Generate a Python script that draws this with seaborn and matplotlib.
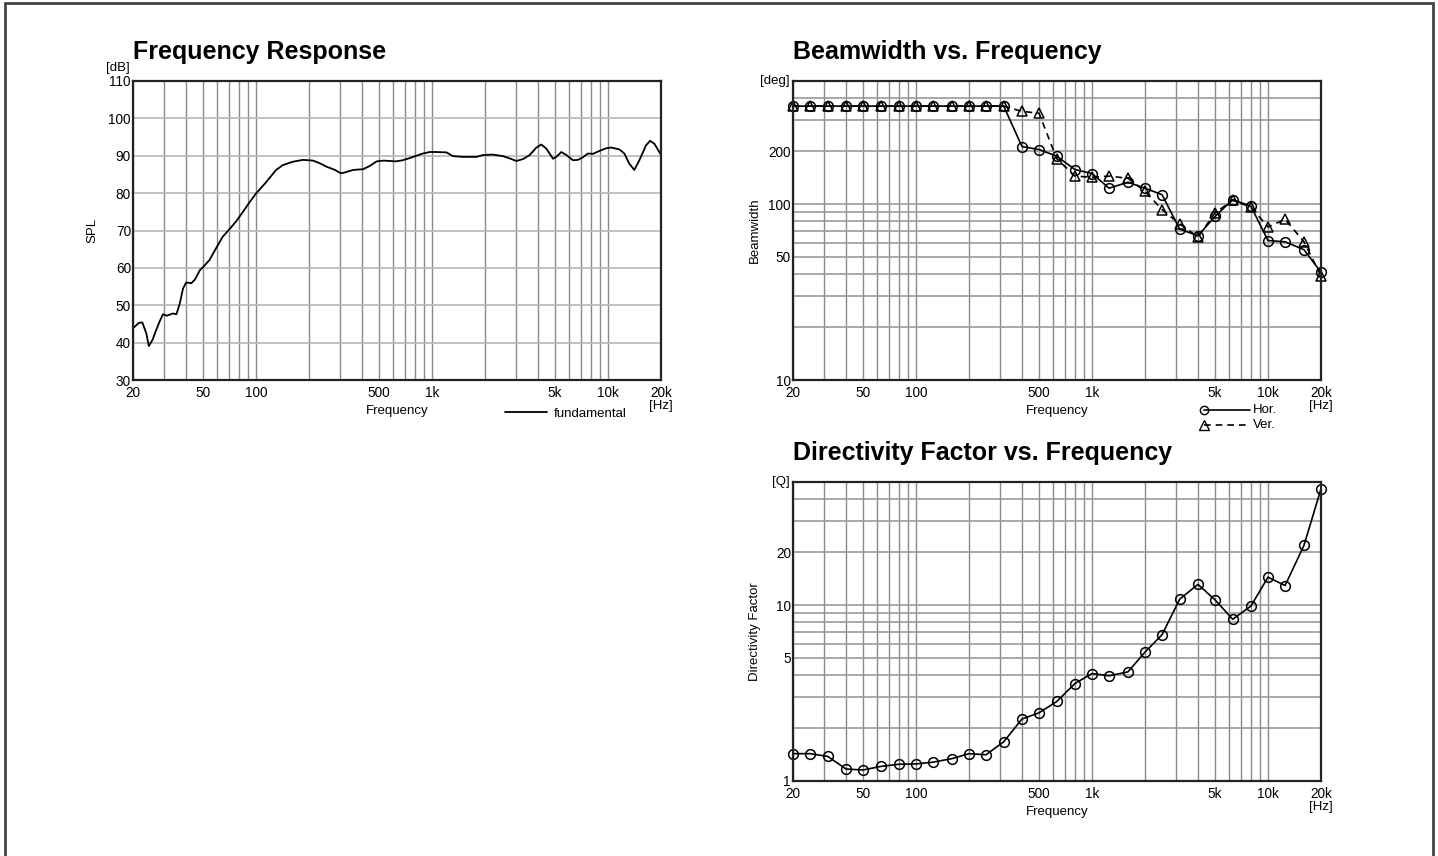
import numpy as np
import pandas as pd
import matplotlib.pyplot as plt
import seaborn as sns
from matplotlib.ticker import FixedLocator, FixedFormatter, NullFormatter
from matplotlib.patches import Rectangle

# frequency response
fr_freq = [20.3, 21.6, 22.6, 23.8, 24.6, 25.8, 27.1, 28.3, 29.6, 31.1, 33.7, 35.3, 36.9, 38.5,
           40.1, 42.9, 45, 48, 50, 54.4, 59.2, 64.6, 70.5, 77, 84, 91.7, 100, 114, 130, 142,
           162, 185, 211, 230, 251, 281, 303, 318, 356, 406, 444, 485, 530, 624, 683, 749,
           815, 888, 970, 1055, 1208, 1316, 1500, 1788, 1951, 2219, 2530, 2760, 3012, 3287,
           3589, 3917, 4182, 4465, 4870, 5085, 5430, 5795, 6325, 6750, 7200, 7690, 8200,
           8935, 9760, 10400, 11600, 12380, 13200, 14100, 15070, 16450, 17340, 18350, 19900]
fr_spl = [44.1, 45.3, 45.4, 42.5, 39.1, 40.7, 43.4, 45.6, 47.6, 47.2, 47.8, 47.6, 50.5, 54.5,
          56.1, 55.9, 56.9, 59.4, 60.2, 62.1, 65.2, 68.3, 70.3, 72.4, 74.9, 77.5, 79.9, 82.9,
          86.2, 87.5, 88.4, 88.9, 88.7, 88.0, 87.1, 86.2, 85.3, 85.5, 86.2, 86.4, 87.3, 88.5,
          88.7, 88.5, 88.8, 89.4, 90.0, 90.6, 91.0, 91.0, 90.9, 89.9, 89.7, 89.7, 90.2, 90.3,
          89.9, 89.3, 88.6, 89.1, 90.2, 92.2, 93.0, 91.9, 89.2, 89.7, 91.0, 90.2, 88.8, 88.9,
          89.6, 90.6, 90.5, 91.3, 92.0, 92.2, 91.7, 90.6, 87.9, 86.2, 88.8, 92.8, 94.0, 93.2,
          90.4]

# third-octave bands
bands = [20, 25, 31.5, 40, 50, 63, 80, 100, 125, 160, 200, 250, 315, 400, 500, 630, 800,
         1000, 1250, 1600, 2000, 2500, 3150, 4000, 5000, 6300, 8000, 10000, 12500, 16000, 20000]
bw_hor = [360, 360, 360, 360, 360, 360, 360, 360, 360, 360, 360, 360, 360, 212, 204, 187, 157,
          149, 123, 133, 123, 113, 72, 66, 85, 106, 97, 62, 61, 55, 41]
bw_ver = [360, 360, 360, 360, 360, 360, 360, 360, 360, 360, 360, 360, 360, 336, 328, 181, 144,
          142, 144, 140, 118, 93, 77, 65, 89, 105, 96, 74, 82, 61, 39]
q_val = [1.43, 1.43, 1.38, 1.17, 1.155, 1.21, 1.245, 1.25, 1.28, 1.34, 1.43, 1.41, 1.67, 2.25,
         2.44, 2.83, 3.58, 4.08, 3.96, 4.17, 5.4, 6.78, 10.8, 13.1, 10.7, 8.3, 9.87, 14.4, 12.9,
         21.8, 45.7]

x_ticks = [20, 50, 100, 500, 1000, 5000, 10000, 20000]
x_labels = ['20', '50', '100', '500', '1k', '5k', '10k', '20k']
x_grid = [30, 40, 60, 70, 80, 90, 200, 300, 400, 600, 700, 800, 900,
          2000, 3000, 4000, 6000, 7000, 8000, 9000]

sns.set_style('white')
plt.rcParams['font.family'] = ['Liberation Sans', 'DejaVu Sans']
plt.rcParams['text.color'] = 'black'

W, H = 1438, 856
fig = plt.figure(figsize=(W / 100, H / 100), dpi=100)
fig.patches.append(Rectangle((5 / W, -0.02), (1433 - 5) / W, 1.02 - 3 / H,
                             transform=fig.transFigure, fill=False,
                             edgecolor='#444444', lw=2))

ax_fr = fig.add_axes([133 / W, 1 - 380 / H, 528 / W, 299 / H])
ax_bw = fig.add_axes([793 / W, 1 - 380 / H, 528 / W, 299 / H])
ax_q = fig.add_axes([793 / W, 1 - 781 / H, 528 / W, 299 / H])


def setup(ax, yticks, ylabels, ygrid, ylim, ylog, ylabel, ylab_x, unit, title, hgrid_col):
    ax.set_xscale('log')
    if ylog:
        ax.set_yscale('log')
    ax.set_xlim(20, 20000)
    ax.set_ylim(*ylim)
    ax.xaxis.set_major_locator(FixedLocator(x_ticks))
    ax.xaxis.set_major_formatter(FixedFormatter(x_labels))
    ax.xaxis.set_minor_locator(FixedLocator(x_grid))
    ax.xaxis.set_minor_formatter(NullFormatter())
    ax.yaxis.set_major_locator(FixedLocator(yticks))
    ax.yaxis.set_major_formatter(FixedFormatter(ylabels))
    ax.yaxis.set_minor_locator(FixedLocator(ygrid))
    ax.yaxis.set_minor_formatter(NullFormatter())
    ax.tick_params(which='both', length=0, labelsize=9.8, colors='black')
    ax.tick_params(axis='x', pad=4.5)
    ax.tick_params(axis='y', pad=1.5)
    ax.grid(True, which='both', axis='x', color='#8a8a8a', lw=1)
    ax.grid(True, which='both', axis='y', color=hgrid_col, lw=1.2)
    for s in ax.spines.values():
        s.set_color('#222222')
        s.set_linewidth(1.6)
    ax.set_xlabel('')
    ax.set_ylabel('')
    ax.text(ylab_x, 0.5, ylabel, transform=ax.transAxes, rotation=90, ha='center',
            va='center', fontsize=9.5)
    ax.text(0.5, -0.105, 'Frequency', transform=ax.transAxes, ha='center', va='center',
            fontsize=9.5)
    ax.text(1.0, -0.086, '[Hz]', transform=ax.transAxes, ha='center', va='center',
            fontsize=9.5)
    ax.text(-0.006, unit[1], unit[0], transform=ax.transAxes, ha='right', va='center',
            fontsize=9.5)
    ax.text(0.0, 1.075, title, transform=ax.transAxes, ha='left', va='baseline',
            fontsize=18, fontweight='bold', color='black')


# frequency response
fr = pd.DataFrame({'Frequency': fr_freq, 'SPL': fr_spl})
sns.lineplot(data=fr, x='Frequency', y='SPL', ax=ax_fr, color='black', lw=1.3,
             label='fundamental')
setup(ax_fr, list(range(30, 111, 10)), [str(v) for v in range(30, 111, 10)], [],
      (30, 110), False, 'SPL', -0.076, ('[dB]', 1.043), 'Frequency Response', '#b8b8b8')
leg = ax_fr.legend(loc='center left', bbox_to_anchor=(0.7045, -0.112), frameon=False,
                   handlelength=3.2, handletextpad=0.5, fontsize=9.5, borderaxespad=0,
                   borderpad=0)
for t in leg.get_texts():
    t.set_color('black')

# beamwidth
bw = pd.DataFrame({'Frequency': bands, 'Hor.': bw_hor, 'Ver.': bw_ver})
sns.lineplot(data=bw, x='Frequency', y='Hor.', ax=ax_bw, color='black', lw=1.2,
             marker='o', mfc='none', mec='black', ms=7, mew=1.1, clip_on=False)
sns.lineplot(data=bw, x='Frequency', y='Ver.', ax=ax_bw, color='black', lw=1.2,
             marker='^', mfc='none', mec='black', ms=7.5, mew=1.1, dashes=False,
             linestyle=(0, (4, 3)), clip_on=False)
setup(ax_bw, [10, 50, 100, 200], ['10', '50', '100', '200'],
      [20, 30, 40, 60, 70, 80, 90, 300, 400], (10, 500), True, 'Beamwidth', -0.072,
      ('[deg]', 1.0), 'Beamwidth vs. Frequency', '#999999')
ax_bw.plot([0.778, 0.866], [-0.100, -0.100], transform=ax_bw.transAxes, color='black',
           lw=1.2, marker='o', markevery=[0], mfc='none', ms=6, clip_on=False)
ax_bw.plot([0.778, 0.866], [-0.151, -0.151], transform=ax_bw.transAxes, color='black',
           lw=1.2, ls=(0, (4, 3)), marker='^', markevery=[0], mfc='none', ms=6.5,
           clip_on=False)
ax_bw.text(0.871, -0.100, 'Hor.', transform=ax_bw.transAxes, va='center', fontsize=9.5)
ax_bw.text(0.871, -0.151, 'Ver.', transform=ax_bw.transAxes, va='center', fontsize=9.5)

# directivity factor
q = pd.DataFrame({'Frequency': bands, 'Q': q_val})
sns.lineplot(data=q, x='Frequency', y='Q', ax=ax_q, color='black', lw=1.2,
             marker='o', mfc='none', mec='black', ms=7, mew=1.1, clip_on=False)
setup(ax_q, [1, 5, 10, 20], ['1', '5', '10', '20'],
      [2, 3, 4, 6, 7, 8, 9, 30, 40], (1, 50), True, 'Directivity Factor', -0.072,
      ('[Q]', 1.0), 'Directivity Factor vs. Frequency', '#999999')

fig.savefig('out.png', dpi=100)
